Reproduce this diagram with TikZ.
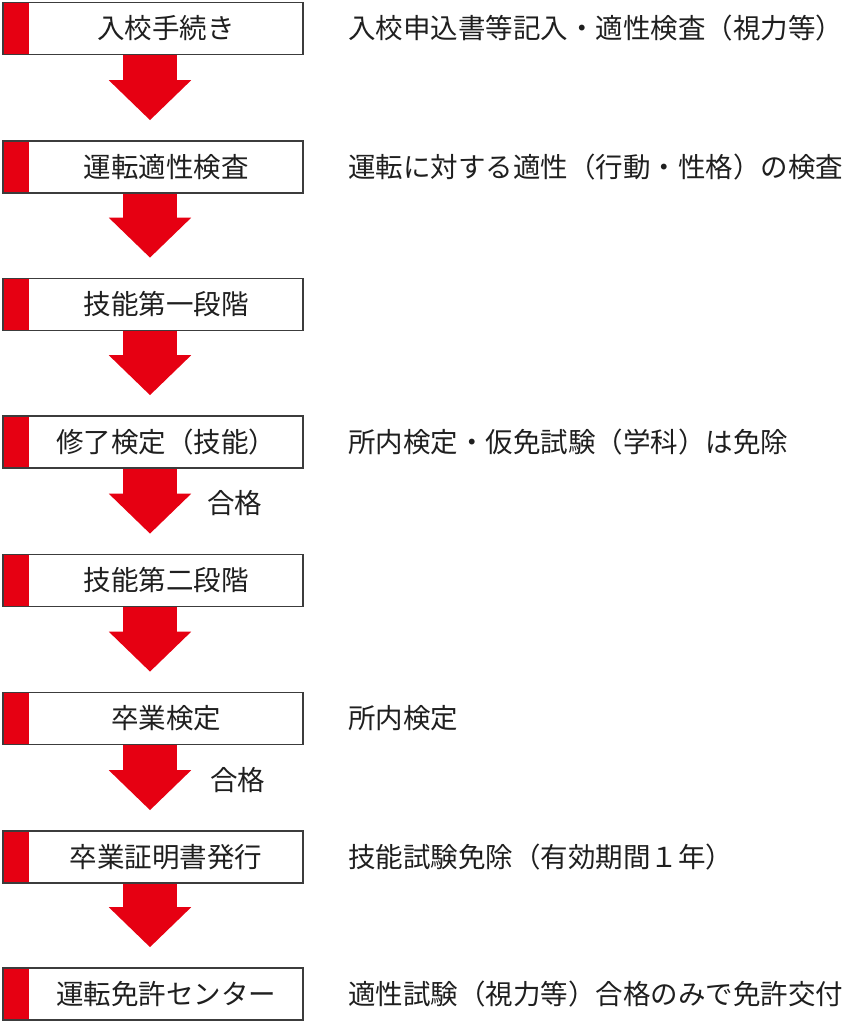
\documentclass[tikz,border=0pt]{standalone}
\usepackage{fontspec}
\setmainfont{Noto Sans CJK JP}
\usetikzlibrary{positioning,arrows.meta}
\definecolor{jred}{RGB}{230,0,18}
\definecolor{edgegray}{RGB}{60,60,60}

\begin{document}
\begin{tikzpicture}[x=1pt, y=-1pt]
\tikzset{StepBox/.style = {draw=edgegray, line width=1.6pt, fill=white, minimum width=300pt, minimum height=52pt, inner sep=0pt,
  path picture={\fill[jred] (path picture bounding box.north west) rectangle ([xshift=26pt]path picture bounding box.south west);}}}
\tikzset{StepText/.style = {font=\fontsize{27.5}{30}\selectfont, text=black!88, xshift=13pt}}
\tikzset{NoteStyle/.style = {font=\fontsize{27.5}{30}\selectfont, text=black!88, inner sep=0pt, anchor=west}}
\tikzset{FlowStyle/.style = {draw=jred, line width=54pt, -{Triangle[width=80pt, length=40pt]}, shorten >=20pt}}
  \useasboundingbox (0,0) rectangle (844,1023);
	\node[StepBox, label={[StepText]center:入校手続き}] (b1) at (153,28.5) {};
	\node[StepBox, label={[StepText]center:運転適性検査}] (b2) at (153,167) {};
	\node[StepBox, label={[StepText]center:技能第一段階}] (b3) at (153,304.5) {};
	\node[StepBox, label={[StepText]center:修了検定（技能）}] (b4) at (153,442) {};
	\node[StepBox, label={[StepText]center:技能第二段階}] (b5) at (153,580.5) {};
	\node[StepBox, label={[StepText]center:卒業検定}] (b6) at (153,718.5) {};
	\node[StepBox, label={[StepText]center:卒業証明書発行}] (b7) at (153,857) {};
	\node[StepBox, label={[StepText]center:運転免許センター}] (b8) at (153,994) {};
	% notes on the right
	\node[NoteStyle, right=44pt of b1] (n1) {入校申込書等記入・適性検査（視力等）};
	\node[NoteStyle, right=44pt of b2] (n2) {運転に対する適性（行動・性格）の検査};
	\node[NoteStyle, right=44pt of b4] (n4) {所内検定・仮免試験（学科）は免除};
	\node[NoteStyle, right=44pt of b6] (n6) {所内検定};
	\node[NoteStyle, right=44pt of b7] (n7) {技能試験免除（有効期間１年）};
	\node[NoteStyle, right=44pt of b8] (n8) {適性試験（視力等）合格のみで免許交付};
	\node[NoteStyle] (p4) at (207,503) {合格};
	\node[NoteStyle] (p6) at (210,780) {合格};
	% arrows
	\draw[FlowStyle] ([xshift=-3pt]b1.south) -- ([xshift=-3pt]b2.north);
	\draw[FlowStyle] ([xshift=-3pt]b2.south) -- ([xshift=-3pt]b3.north);
	\draw[FlowStyle] ([xshift=-3pt]b3.south) -- ([xshift=-3pt]b4.north);
	\draw[FlowStyle] ([xshift=-3pt]b4.south) -- ([xshift=-3pt]b5.north);
	\draw[FlowStyle] ([xshift=-3pt]b5.south) -- ([xshift=-3pt]b6.north);
	\draw[FlowStyle] ([xshift=-3pt]b6.south) -- ([xshift=-3pt]b7.north);
	\draw[FlowStyle] ([xshift=-3pt]b7.south) -- ([xshift=-3pt]b8.north);
\end{tikzpicture}
\end{document}
